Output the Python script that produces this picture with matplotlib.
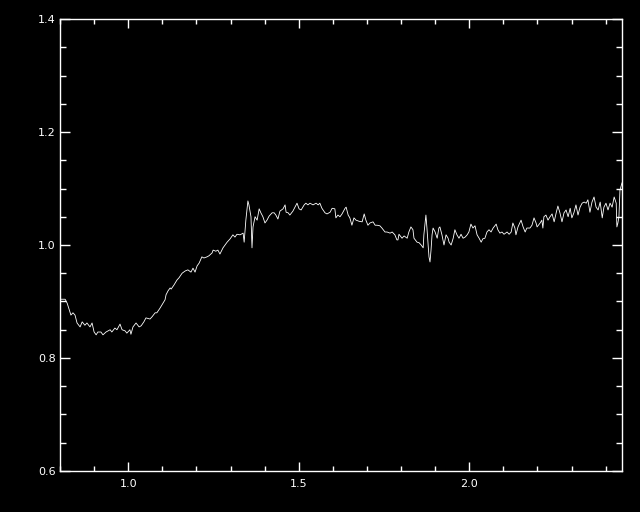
import matplotlib
matplotlib.use("Agg")
import matplotlib.pyplot as plt
from matplotlib.ticker import MultipleLocator, FixedLocator

# wavelength (x) and normalised flux (y)
wave = [
    0.803, 0.815, 0.821, 0.832, 0.838, 0.844, 0.850, 0.859, 0.865, 0.873,
    0.879, 0.888, 0.894, 0.900, 0.906, 0.911, 0.920, 0.926, 0.935, 0.947,
    0.952, 0.961, 0.967, 0.976, 0.982, 0.991, 0.996, 1.005, 1.008, 1.014,
    1.023, 1.032, 1.038, 1.046, 1.052, 1.064, 1.070, 1.079, 1.084, 1.093,
    1.099, 1.108, 1.111, 1.117, 1.123, 1.126,
    1.134, 1.143, 1.149, 1.158, 1.167, 1.175, 1.184, 1.190, 1.196, 1.202,
    1.208, 1.216, 1.222, 1.231, 1.237, 1.246, 1.249, 1.257, 1.263, 1.269,
    1.278, 1.284, 1.290, 1.299, 1.307, 1.313, 1.319, 1.328, 1.337, 1.340,
    1.345, 1.351, 1.354, 1.360, 1.363, 1.366, 1.372, 1.378, 1.384, 1.389,
    1.395, 1.401, 1.407, 1.413, 1.422, 1.428, 1.433, 1.439, 1.445, 1.454,
    1.460,
    1.463, 1.469, 1.474, 1.483, 1.489, 1.495, 1.501, 1.507, 1.516, 1.521,
    1.527, 1.533, 1.542, 1.551, 1.557, 1.562, 1.568, 1.577, 1.583, 1.592,
    1.598, 1.606, 1.609, 1.615, 1.621, 1.627, 1.636, 1.639, 1.645, 1.650,
    1.656, 1.662, 1.668, 1.677, 1.686, 1.692, 1.697, 1.703, 1.709, 1.718,
    1.724, 1.730, 1.738, 1.744, 1.753, 1.759, 1.768, 1.774, 1.782, 1.788,
    1.791, 1.794, 1.803, 1.809, 1.818, 1.823, 1.829, 1.835, 1.838, 1.847,
    1.853, 1.859, 1.865, 1.867, 1.873, 1.876, 1.882, 1.885, 1.888, 1.891,
    1.894, 1.900, 1.906, 1.911, 1.914, 1.920, 1.926, 1.932, 1.938, 1.941,
    1.947, 1.953, 1.958, 1.964, 1.970, 1.976, 1.982, 1.988, 1.994, 1.999,
    2.005, 2.011, 2.017, 2.023, 2.029, 2.035, 2.040, 2.046, 2.052, 2.058,
    2.064, 2.070, 2.079, 2.084, 2.090, 2.096, 2.102, 2.111, 2.117, 2.123,
    2.128, 2.134, 2.137, 2.143, 2.152, 2.158, 2.164, 2.169, 2.178, 2.184,
    2.190, 2.196, 2.199, 2.208, 2.213, 2.216, 2.219, 2.225, 2.231, 2.237,
    2.243, 2.249, 2.255, 2.260, 2.266, 2.272, 2.278, 2.284, 2.290, 2.296,
    2.301, 2.307, 2.313, 2.319, 2.325, 2.331, 2.337, 2.343, 2.348, 2.354,
    2.360, 2.366, 2.372, 2.378, 2.384, 2.390, 2.395, 2.401, 2.407, 2.413,
    2.419, 2.425, 2.431, 2.433, 2.436, 2.439, 2.442, 2.448,
]
flux = [
    0.904, 0.904, 0.897, 0.876, 0.880, 0.876, 0.862, 0.855, 0.864, 0.858,
    0.862, 0.855, 0.862, 0.846, 0.841, 0.846, 0.846, 0.841, 0.846, 0.850,
    0.846, 0.853, 0.850, 0.860, 0.850, 0.848, 0.844, 0.850, 0.842, 0.855,
    0.862, 0.855, 0.857, 0.864, 0.871, 0.869, 0.873, 0.880, 0.880, 0.888,
    0.894, 0.903, 0.912, 0.919, 0.924, 0.922,
    0.929, 0.938, 0.942, 0.950, 0.954, 0.956, 0.952, 0.959, 0.952, 0.963,
    0.968, 0.979, 0.977, 0.979, 0.981, 0.986, 0.991, 0.989, 0.991, 0.984,
    0.995, 1.000, 1.005, 1.011, 1.018, 1.014, 1.019, 1.018, 1.021, 1.005,
    1.044, 1.078, 1.071, 1.050, 0.995, 1.032, 1.050, 1.044, 1.064, 1.057,
    1.050, 1.039, 1.044, 1.051, 1.057, 1.057, 1.053, 1.046, 1.060, 1.064,
    1.071,
    1.058, 1.057, 1.053, 1.060, 1.067, 1.074, 1.064, 1.062, 1.071, 1.074,
    1.071, 1.074, 1.071, 1.074, 1.071, 1.074, 1.065, 1.057, 1.055, 1.058,
    1.065, 1.064, 1.048, 1.053, 1.050, 1.055, 1.065, 1.067, 1.053, 1.048,
    1.035, 1.048, 1.044, 1.042, 1.041, 1.055, 1.044, 1.035, 1.039, 1.041,
    1.035, 1.035, 1.034, 1.030, 1.023, 1.023, 1.021, 1.023, 1.018, 1.009,
    1.009, 1.019, 1.012, 1.016, 1.012, 1.023, 1.032, 1.027, 1.012, 1.005,
    1.004, 1.000, 0.995, 1.018, 1.053, 1.030, 0.979, 0.970, 0.991, 1.018,
    1.030, 1.023, 1.012, 1.030, 1.032, 1.018, 1.000, 1.018, 1.012, 1.005,
    1.000, 1.012, 1.027, 1.018, 1.012, 1.019, 1.012, 1.014, 1.018, 1.023,
    1.037, 1.030, 1.034, 1.018, 1.012, 1.005, 1.011, 1.012, 1.023, 1.027,
    1.023, 1.030, 1.037, 1.027, 1.021, 1.023, 1.019, 1.023, 1.019, 1.023,
    1.039, 1.030, 1.018, 1.032, 1.044, 1.032, 1.023, 1.030, 1.030, 1.035,
    1.048, 1.039, 1.032, 1.039, 1.044, 1.030, 1.050, 1.053, 1.044, 1.050,
    1.055, 1.041, 1.057, 1.069, 1.057, 1.041, 1.057, 1.062, 1.050, 1.065,
    1.048, 1.057, 1.071, 1.053, 1.067, 1.074, 1.076, 1.074, 1.080, 1.058,
    1.076, 1.085, 1.067, 1.062, 1.076, 1.048, 1.067, 1.074, 1.062, 1.074,
    1.067, 1.085, 1.074, 1.032, 1.039, 1.050, 1.097, 1.110,
]

x_ticks = [1.0, 1.5, 2.0]
x_labels = ["1.0", "1.5", "2.0"]
y_ticks = [0.6, 0.8, 1.0, 1.2, 1.4]
y_labels = ["0.6", "0.8", "1.0", "1.2", "1.4"]

fig = plt.figure(figsize=(6.4, 5.12), dpi=100, facecolor="black")
ax = fig.add_axes([60 / 640, 41 / 512, 562 / 640, 452 / 512], facecolor="black")

# thin 1px white trace, IDL style
ax.plot(wave, flux, color="white", linewidth=0.6, antialiased=True)

ax.set_xlim(0.8, 2.448)
ax.set_ylim(0.6, 1.4)

for s in ax.spines.values():
    s.set_color("white")
    s.set_linewidth(1.0)

ax.xaxis.set_major_locator(FixedLocator(x_ticks))
ax.set_xticklabels(x_labels)
ax.xaxis.set_minor_locator(MultipleLocator(0.1))
ax.yaxis.set_major_locator(FixedLocator(y_ticks))
ax.set_yticklabels(y_labels)
ax.yaxis.set_minor_locator(MultipleLocator(0.05))

ax.tick_params(axis="both", which="both", direction="in", colors="white",
               top=True, right=True, width=1.0, labelsize=8)
ax.tick_params(axis="x", which="major", length=6.5, pad=6)
ax.tick_params(axis="x", which="minor", length=3.6)
ax.tick_params(axis="y", which="major", length=7, pad=3)
ax.tick_params(axis="y", which="minor", length=4.3)

fig.savefig("out.png", dpi=100, facecolor="black")
